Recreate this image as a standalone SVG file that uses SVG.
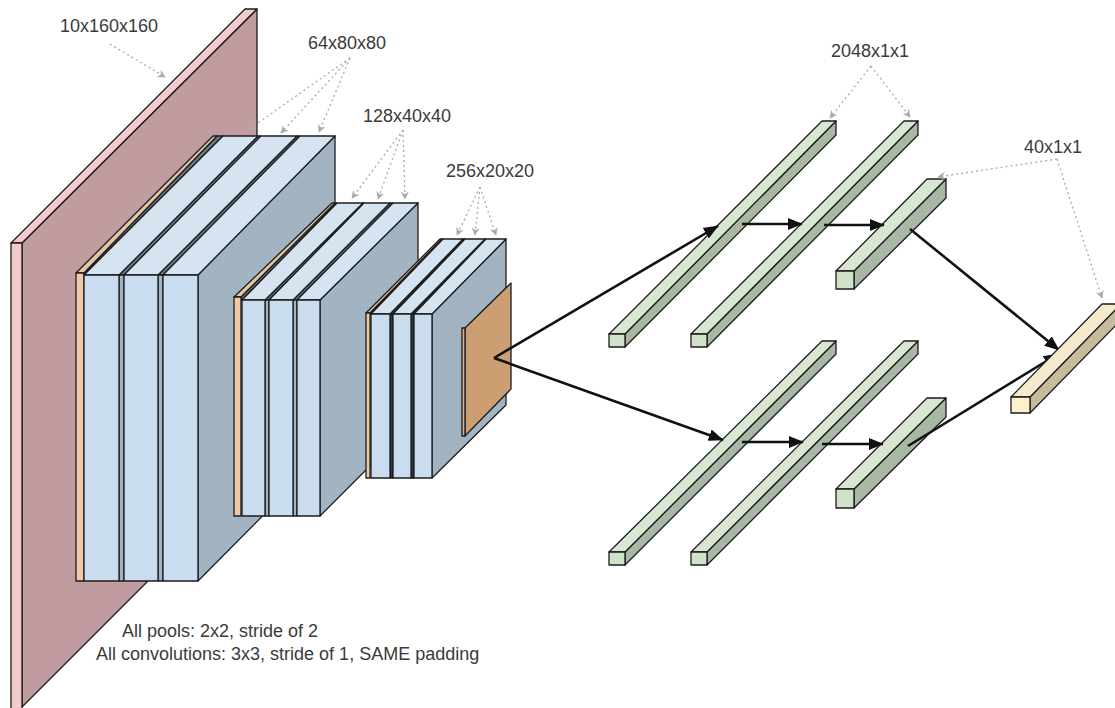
<svg xmlns="http://www.w3.org/2000/svg" width="1115" height="708" viewBox="0 0 1115 708">
<defs>
<marker id="big" viewBox="0 0 10 10" refX="9.5" refY="5" markerWidth="15" markerHeight="15" markerUnits="userSpaceOnUse" orient="auto"><path d="M0 1L10 5L0 9Z" fill="#111"/></marker>
<marker id="dot" viewBox="0 0 10 10" refX="9" refY="5" markerWidth="8" markerHeight="8" markerUnits="userSpaceOnUse" orient="auto"><path d="M0 0L10 5L0 10L3 5Z" fill="#aaa"/></marker>
</defs>
<style>
text{font-family:"Liberation Sans",Arial,sans-serif;font-size:18px;fill:#3a3a3a}
polygon,rect{stroke:#1c1c1c;stroke-width:1.3;stroke-linejoin:round}
.rf{fill:#f2cbcc}.rs{fill:#c09b9f}
.of{fill:#f1c8a6}.ot{fill:#e3c6a6}
.bf{fill:#c9dcf0}.bt{fill:#d6e4f1}.bs{fill:#a2b3c2}
.gap{fill:#6b7b88}.gapd{fill:#2f3a44}
.gf{fill:#d0e2c9}.gt{fill:#d9e6d2}.gs{fill:#a9b8a4}
.yf{fill:#fff0cc}.yt{fill:#f4eacd}.ys{fill:#c5bc9b}
.t{fill:#cc9e72}.ts{fill:#d9b48c}
.dots line{stroke:#aaa;stroke-width:1.3;stroke-dasharray:2 3;marker-end:url(#dot)}
.arr line{stroke:#111;stroke-width:2.6;marker-end:url(#big)}
</style>
<rect width="1115" height="708" fill="#fff" style="stroke:none"/>

<g id="input">
<polygon class="rs" points="22,243 257,9 257,472 22,707"/>
<polygon class="rf" points="11,243 22,243 257,9 245,9"/>
<rect class="rf" x="11" y="243" width="11" height="470"/>
</g>

<g id="block1">
<polygon class="bs" points="198,275 335,136 335,443 198,581"/>
<polygon class="gap" points="84,273 217,136 223,136 84,275"/>
<polygon class="ot" points="76,273 84,273 217,136 213,136"/>
<rect class="of" x="76" y="273" width="8" height="308"/>
<polygon class="gap" points="119,275 258,136 261,136 124,275"/>
<rect class="bs" x="119" y="275" width="5" height="306"/>
<polygon class="bt" points="84,275 119,275 258,136 223,136"/>
<rect class="bf" x="84" y="275" width="35" height="306"/>
<polygon class="gap" points="158,275 297,136 300,136 163,275"/>
<rect class="bs" x="158" y="275" width="5" height="306"/>
<polygon class="bt" points="124,275 158,275 297,136 261,136"/>
<rect class="bf" x="124" y="275" width="34" height="306"/>
<polygon class="bt" points="163,275 198,275 335,136 300,136"/>
<rect class="bf" x="163" y="275" width="35" height="306"/>
</g>

<g id="block2">
<polygon class="bs" points="320,300 418,203 418,418 320,516"/>
<polygon class="gap" points="241,297 335,203 337,203 242,300"/>
<polygon class="ot" points="234,297 241,297 335,203 332,203"/>
<rect class="of" x="234" y="297" width="7" height="219"/>
<polygon class="gap" points="265,300 363,203 364,203 269,300"/>
<rect class="bs" x="265" y="300" width="4" height="216"/>
<polygon class="bt" points="242,300 265,300 363,203 337,203"/>
<rect class="bf" x="242" y="300" width="23" height="216"/>
<polygon class="gap" points="293,300 390,203 393,203 297,300"/>
<rect class="bs" x="293" y="300" width="4" height="216"/>
<polygon class="bt" points="269,300 293,300 390,203 364,203"/>
<rect class="bf" x="269" y="300" width="24" height="216"/>
<polygon class="bt" points="297,300 320,300 418,203 393,203"/>
<rect class="bf" x="297" y="300" width="23" height="216"/>
</g>

<g id="block3">
<polygon class="bs" points="432,314 506,239 506,405 432,478"/>
<polygon class="gapd" points="370,313 442,239 443,239 371,314"/>
<polygon class="ot" points="366,313 370,313 442,239 440,239"/>
<rect class="of" x="366" y="313" width="4" height="165"/>
<polygon class="gapd" points="390,314 463,239 465,239 393,314"/>
<rect class="gapd" x="390" y="314" width="3" height="164"/>
<polygon class="bt" points="371,314 390,314 463,239 443,239"/>
<rect class="bf" x="371" y="314" width="19" height="164"/>
<polygon class="gapd" points="411,314 485,239 486,239 414,314"/>
<rect class="gapd" x="411" y="314" width="3" height="164"/>
<polygon class="bt" points="393,314 411,314 485,239 465,239"/>
<rect class="bf" x="393" y="314" width="18" height="164"/>
<polygon class="bt" points="414,314 432,314 506,239 486,239"/>
<rect class="bf" x="414" y="314" width="18" height="164"/>
</g>

<g id="pool">
<polygon class="t" points="465,328 511,283 511,389 465,436"/>
<rect class="ts" x="462" y="328" width="3" height="108"/>
</g>

<g id="fc-top-1">
<polygon class="gs" points="625,334 836,121 836,135 625,347"/>
<polygon class="gt" points="609,334 625,334 836,121 822,121"/>
<rect class="gf" x="609" y="334" width="16" height="13"/>
</g>
<g id="fc-top-2">
<polygon class="gs" points="707,334 918,121 918,135 707,347"/>
<polygon class="gt" points="691,334 707,334 918,121 904,121"/>
<rect class="gf" x="691" y="334" width="16" height="13"/>
</g>
<g id="fc-top-3">
<polygon class="gs" points="854,271 946,179 946,198 854,289"/>
<polygon class="gt" points="836,271 854,271 946,179 927,179"/>
<rect class="gf" x="836" y="271" width="18" height="18"/>
</g>
<g id="fc-bot-1">
<polygon class="gs" points="625,552 836,341 836,354 625,565"/>
<polygon class="gt" points="609,552 625,552 836,341 822,341"/>
<rect class="gf" x="609" y="552" width="16" height="13"/>
</g>
<g id="fc-bot-2">
<polygon class="gs" points="707,552 918,341 918,354 707,565"/>
<polygon class="gt" points="691,552 707,552 918,341 904,341"/>
<rect class="gf" x="691" y="552" width="16" height="13"/>
</g>
<g id="fc-bot-3">
<polygon class="gs" points="854,489 946,398 946,417 854,508"/>
<polygon class="gt" points="836,489 854,489 946,398 927,398"/>
<rect class="gf" x="836" y="489" width="18" height="19"/>
</g>

<g id="connectors">
<g class="arr">
<line x1="494" y1="358" x2="718" y2="226"/>
<line x1="494" y1="358" x2="723" y2="440"/>
<line x1="742" y1="224" x2="802" y2="224"/>
<line x1="824" y1="225" x2="884" y2="225"/>
<line x1="742" y1="442" x2="803" y2="442"/>
<line x1="822" y1="444" x2="883" y2="444"/>
<line x1="910" y1="229" x2="1059" y2="350"/>
<line x1="908" y1="446" x2="1058" y2="354"/>
</g>
<g class="dots">
<line x1="110" y1="44" x2="165" y2="77"/>
<line x1="350" y1="58" x2="248" y2="130"/>
<line x1="350" y1="58" x2="281" y2="133"/>
<line x1="350" y1="58" x2="319" y2="132"/>
<line x1="403" y1="130" x2="352" y2="198"/>
<line x1="403" y1="130" x2="378" y2="199"/>
<line x1="403" y1="130" x2="405" y2="199"/>
<line x1="480" y1="187" x2="457" y2="235"/>
<line x1="480" y1="187" x2="475" y2="235"/>
<line x1="480" y1="187" x2="496" y2="235"/>
<line x1="871" y1="66" x2="830" y2="118"/>
<line x1="871" y1="66" x2="910" y2="117"/>
<line x1="1057" y1="159" x2="938" y2="177"/>
<line x1="1057" y1="159" x2="1102" y2="298"/>
</g>
</g>

<g id="output">
<polygon class="ys" points="1030,397 1121,304 1121,320 1030,413"/>
<polygon class="yt" points="1011,397 1030,397 1121,304 1102,304"/>
<rect class="yf" x="1011" y="397" width="19" height="16"/>
</g>

<g id="labels">
<text x="60" y="32">10x160x160</text>
<text x="308" y="49">64x80x80</text>
<text x="363" y="122">128x40x40</text>
<text x="446" y="177">256x20x20</text>
<text x="831" y="57">2048x1x1</text>
<text x="1024" y="153">40x1x1</text>
<text x="122" y="637">All pools: 2x2, stride of 2</text>
<text x="96" y="660">All convolutions: 3x3, stride of 1, SAME padding</text>
</g>
</svg>
